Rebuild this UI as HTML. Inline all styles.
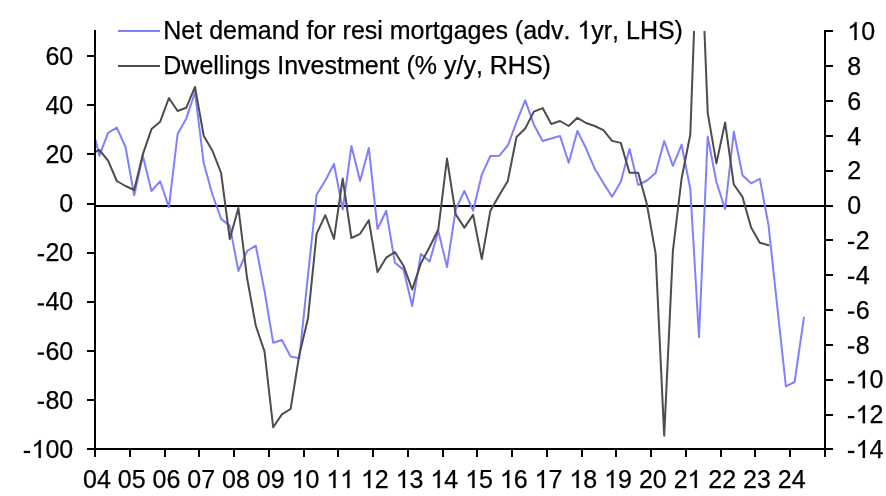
<!DOCTYPE html>
<html><head><meta charset="utf-8"><title>Chart</title>
<style>
html,body{margin:0;padding:0;background:#fff;}
svg{display:block;will-change:transform;}
text{font-family:"Liberation Sans",sans-serif;font-size:25.0px;fill:#000;font-kerning:none;stroke:#000;stroke-width:0.25px;}
</style></head><body>
<svg width="886" height="496" viewBox="0 0 886 496">
<rect width="886" height="496" fill="#fff"/>
<defs><clipPath id="c"><rect x="95" y="31" width="730" height="418"/></clipPath></defs>

<line x1="95" y1="206" x2="833" y2="206" stroke="#000" stroke-width="2" shape-rendering="crispEdges"/>
<g clip-path="url(#c)" fill="none" stroke-linejoin="round" stroke-linecap="round">
<polyline points="90.7,121.0 99.4,155.7 108.1,132.8 116.8,127.6 125.5,147.0 134.2,195.2 142.8,155.7 151.5,191.0 160.2,181.2 168.9,207.2 177.6,134.0 186.3,118.4 195.0,92.3 203.7,163.0 212.4,194.5 221.1,218.9 229.8,225.9 238.4,271.0 247.1,251.0 255.8,245.7 264.5,290.9 273.2,342.8 281.9,340.0 290.6,356.6 299.3,358.3 308.0,275.2 316.6,194.8 325.3,180.5 334.0,164.0 342.7,209.5 351.4,146.1 360.1,181.0 368.8,147.9 377.5,229.0 386.2,210.7 394.9,262.7 403.5,269.6 412.2,306.0 420.9,253.9 429.6,261.6 438.3,231.0 447.0,267.0 455.7,209.4 464.4,190.8 473.1,210.7 481.8,174.7 490.4,156.0 499.1,155.8 507.8,145.5 516.5,122.2 525.2,100.4 533.9,124.7 542.6,141.0 551.3,138.5 560.0,135.9 568.7,162.7 577.4,130.9 586.0,148.3 594.7,168.7 603.4,183.1 612.1,196.7 620.8,181.8 629.5,149.1 638.2,185.1 646.9,180.5 655.6,173.0 664.2,141.0 672.9,165.8 681.6,144.7 690.3,189.0 699.0,337.2 707.7,136.6 716.4,182.0 725.1,209.0 733.8,131.8 742.5,175.3 751.1,183.3 759.8,178.8 768.5,225.0 777.2,306.0 785.9,386.4 794.6,382.0 803.9,317.6" stroke="#8080ff" stroke-width="2.0"/>
<polyline points="90.7,154.0 99.4,150.0 108.1,160.6 116.8,181.0 125.5,186.0 134.2,190.0 142.8,154.4 151.5,129.1 160.2,121.7 168.9,98.0 177.6,111.0 186.3,107.7 195.0,86.9 203.7,135.8 212.4,150.7 221.1,173.0 229.8,239.0 238.4,208.0 247.1,278.3 255.8,325.7 264.5,351.4 273.2,427.3 281.9,414.4 290.6,409.0 299.3,355.0 308.0,318.2 316.6,233.8 325.3,215.2 334.0,238.9 342.7,178.5 351.4,238.0 360.1,233.8 368.8,220.2 377.5,272.0 386.2,257.7 394.9,252.0 403.5,265.7 412.2,289.5 420.9,263.4 429.6,247.0 438.3,229.5 447.0,158.6 455.7,214.4 464.4,227.6 473.1,214.9 481.8,259.1 490.4,210.7 499.1,195.5 507.8,181.0 516.5,137.0 525.2,128.5 533.9,111.6 542.6,108.1 551.3,124.0 560.0,121.0 568.7,126.0 577.4,117.8 586.0,123.0 594.7,126.0 603.4,130.2 612.1,140.9 620.8,142.9 629.5,172.7 638.2,172.7 646.9,204.3 655.6,253.4 664.2,435.8 672.9,250.9 681.6,178.5 690.3,134.5 699.0,-107.0 707.7,112.8 716.4,163.4 725.1,122.5 733.8,184.5 742.5,196.9 751.1,227.6 759.8,242.7 768.5,245.2" stroke="#4d4d4d" stroke-width="2.0"/>
</g>
<g stroke="#000" stroke-width="2" fill="none" shape-rendering="crispEdges">
<line x1="95" y1="30" x2="95" y2="457"/>
<line x1="825" y1="30" x2="825" y2="457"/>
<line x1="87" y1="449" x2="833" y2="449"/>
<line x1="87" y1="56" x2="95" y2="56"/>
<line x1="87" y1="105" x2="95" y2="105"/>
<line x1="87" y1="154" x2="95" y2="154"/>
<line x1="87" y1="204" x2="95" y2="204"/>
<line x1="87" y1="253" x2="95" y2="253"/>
<line x1="87" y1="302" x2="95" y2="302"/>
<line x1="87" y1="351" x2="95" y2="351"/>
<line x1="87" y1="400" x2="95" y2="400"/>
<line x1="87" y1="449" x2="95" y2="449"/>
<line x1="825" y1="31" x2="833" y2="31"/>
<line x1="825" y1="66" x2="833" y2="66"/>
<line x1="825" y1="101" x2="833" y2="101"/>
<line x1="825" y1="136" x2="833" y2="136"/>
<line x1="825" y1="171" x2="833" y2="171"/>
<line x1="825" y1="206" x2="833" y2="206"/>
<line x1="825" y1="240" x2="833" y2="240"/>
<line x1="825" y1="275" x2="833" y2="275"/>
<line x1="825" y1="310" x2="833" y2="310"/>
<line x1="825" y1="345" x2="833" y2="345"/>
<line x1="825" y1="380" x2="833" y2="380"/>
<line x1="825" y1="415" x2="833" y2="415"/>
<line x1="825" y1="449" x2="833" y2="449"/>
<line x1="95" y1="449" x2="95" y2="457"/>
<line x1="130" y1="449" x2="130" y2="457"/>
<line x1="165" y1="449" x2="165" y2="457"/>
<line x1="199" y1="449" x2="199" y2="457"/>
<line x1="234" y1="449" x2="234" y2="457"/>
<line x1="269" y1="449" x2="269" y2="457"/>
<line x1="304" y1="449" x2="304" y2="457"/>
<line x1="338" y1="449" x2="338" y2="457"/>
<line x1="373" y1="449" x2="373" y2="457"/>
<line x1="408" y1="449" x2="408" y2="457"/>
<line x1="443" y1="449" x2="443" y2="457"/>
<line x1="477" y1="449" x2="477" y2="457"/>
<line x1="512" y1="449" x2="512" y2="457"/>
<line x1="547" y1="449" x2="547" y2="457"/>
<line x1="582" y1="449" x2="582" y2="457"/>
<line x1="616" y1="449" x2="616" y2="457"/>
<line x1="651" y1="449" x2="651" y2="457"/>
<line x1="686" y1="449" x2="686" y2="457"/>
<line x1="721" y1="449" x2="721" y2="457"/>
<line x1="755" y1="449" x2="755" y2="457"/>
<line x1="790" y1="449" x2="790" y2="457"/>
<line x1="825" y1="449" x2="825" y2="457"/>
</g>
<text x="45.39" y="64.59">60</text>
<text x="45.39" y="113.76">40</text>
<text x="45.39" y="162.94">20</text>
<text x="59.30" y="212.12">0</text>
<rect x="37.67" y="254.09" width="6.4" height="2.3" fill="#000"/><text x="45.39" y="261.29">20</text>
<rect x="37.67" y="303.27" width="6.4" height="2.3" fill="#000"/><text x="45.39" y="310.47">40</text>
<rect x="37.67" y="352.45" width="6.4" height="2.3" fill="#000"/><text x="45.39" y="359.65">60</text>
<rect x="37.67" y="401.62" width="6.4" height="2.3" fill="#000"/><text x="45.39" y="408.82">80</text>
<rect x="23.76" y="450.80" width="6.4" height="2.3" fill="#000"/><path d="M763 0H583V1147Q518 1085 412.5 1023Q307 961 223 930V1104Q374 1175 487 1276Q600 1377 647 1472H763Z" transform="translate(31.49,458.00) scale(0.01221,-0.01221)" fill="#000" stroke="#000" stroke-width="20"/><text x="45.39" y="458.00">00</text>
<path d="M763 0H583V1147Q518 1085 412.5 1023Q307 961 223 930V1104Q374 1175 487 1276Q600 1377 647 1472H763Z" transform="translate(847.30,40.00) scale(0.01221,-0.01221)" fill="#000" stroke="#000" stroke-width="20"/><text x="861.20" y="40.00">0</text>
<text x="847.30" y="74.83">8</text>
<text x="847.30" y="109.67">6</text>
<text x="847.30" y="144.50">4</text>
<text x="847.30" y="179.33">2</text>
<text x="847.30" y="214.17">0</text>
<rect x="847.90" y="241.80" width="6.4" height="2.3" fill="#000"/><text x="855.63" y="249.00">2</text>
<rect x="847.90" y="276.63" width="6.4" height="2.3" fill="#000"/><text x="855.63" y="283.83">4</text>
<rect x="847.90" y="311.47" width="6.4" height="2.3" fill="#000"/><text x="855.63" y="318.67">6</text>
<rect x="847.90" y="346.30" width="6.4" height="2.3" fill="#000"/><text x="855.63" y="353.50">8</text>
<rect x="847.90" y="381.13" width="6.4" height="2.3" fill="#000"/><path d="M763 0H583V1147Q518 1085 412.5 1023Q307 961 223 930V1104Q374 1175 487 1276Q600 1377 647 1472H763Z" transform="translate(855.63,388.33) scale(0.01221,-0.01221)" fill="#000" stroke="#000" stroke-width="20"/><text x="869.53" y="388.33">0</text>
<rect x="847.90" y="415.97" width="6.4" height="2.3" fill="#000"/><path d="M763 0H583V1147Q518 1085 412.5 1023Q307 961 223 930V1104Q374 1175 487 1276Q600 1377 647 1472H763Z" transform="translate(855.63,423.17) scale(0.01221,-0.01221)" fill="#000" stroke="#000" stroke-width="20"/><text x="869.53" y="423.17">2</text>
<rect x="847.90" y="450.80" width="6.4" height="2.3" fill="#000"/><path d="M763 0H583V1147Q518 1085 412.5 1023Q307 961 223 930V1104Q374 1175 487 1276Q600 1377 647 1472H763Z" transform="translate(855.63,458.00) scale(0.01221,-0.01221)" fill="#000" stroke="#000" stroke-width="20"/><text x="869.53" y="458.00">4</text>
<text x="83.05" y="488.00">04</text>
<text x="117.79" y="488.00">05</text>
<text x="152.53" y="488.00">06</text>
<text x="187.27" y="488.00">07</text>
<text x="222.01" y="488.00">08</text>
<text x="256.75" y="488.00">09</text>
<path d="M763 0H583V1147Q518 1085 412.5 1023Q307 961 223 930V1104Q374 1175 487 1276Q600 1377 647 1472H763Z" transform="translate(291.49,488.00) scale(0.01221,-0.01221)" fill="#000" stroke="#000" stroke-width="20"/><text x="305.39" y="488.00">0</text>
<path d="M763 0H583V1147Q518 1085 412.5 1023Q307 961 223 930V1104Q374 1175 487 1276Q600 1377 647 1472H763Z" transform="translate(326.23,488.00) scale(0.01221,-0.01221)" fill="#000" stroke="#000" stroke-width="20"/><path d="M763 0H583V1147Q518 1085 412.5 1023Q307 961 223 930V1104Q374 1175 487 1276Q600 1377 647 1472H763Z" transform="translate(340.13,488.00) scale(0.01221,-0.01221)" fill="#000" stroke="#000" stroke-width="20"/>
<path d="M763 0H583V1147Q518 1085 412.5 1023Q307 961 223 930V1104Q374 1175 487 1276Q600 1377 647 1472H763Z" transform="translate(360.97,488.00) scale(0.01221,-0.01221)" fill="#000" stroke="#000" stroke-width="20"/><text x="374.87" y="488.00">2</text>
<path d="M763 0H583V1147Q518 1085 412.5 1023Q307 961 223 930V1104Q374 1175 487 1276Q600 1377 647 1472H763Z" transform="translate(395.71,488.00) scale(0.01221,-0.01221)" fill="#000" stroke="#000" stroke-width="20"/><text x="409.61" y="488.00">3</text>
<path d="M763 0H583V1147Q518 1085 412.5 1023Q307 961 223 930V1104Q374 1175 487 1276Q600 1377 647 1472H763Z" transform="translate(430.45,488.00) scale(0.01221,-0.01221)" fill="#000" stroke="#000" stroke-width="20"/><text x="444.35" y="488.00">4</text>
<path d="M763 0H583V1147Q518 1085 412.5 1023Q307 961 223 930V1104Q374 1175 487 1276Q600 1377 647 1472H763Z" transform="translate(465.19,488.00) scale(0.01221,-0.01221)" fill="#000" stroke="#000" stroke-width="20"/><text x="479.09" y="488.00">5</text>
<path d="M763 0H583V1147Q518 1085 412.5 1023Q307 961 223 930V1104Q374 1175 487 1276Q600 1377 647 1472H763Z" transform="translate(499.93,488.00) scale(0.01221,-0.01221)" fill="#000" stroke="#000" stroke-width="20"/><text x="513.83" y="488.00">6</text>
<path d="M763 0H583V1147Q518 1085 412.5 1023Q307 961 223 930V1104Q374 1175 487 1276Q600 1377 647 1472H763Z" transform="translate(534.67,488.00) scale(0.01221,-0.01221)" fill="#000" stroke="#000" stroke-width="20"/><text x="548.57" y="488.00">7</text>
<path d="M763 0H583V1147Q518 1085 412.5 1023Q307 961 223 930V1104Q374 1175 487 1276Q600 1377 647 1472H763Z" transform="translate(569.41,488.00) scale(0.01221,-0.01221)" fill="#000" stroke="#000" stroke-width="20"/><text x="583.31" y="488.00">8</text>
<path d="M763 0H583V1147Q518 1085 412.5 1023Q307 961 223 930V1104Q374 1175 487 1276Q600 1377 647 1472H763Z" transform="translate(604.15,488.00) scale(0.01221,-0.01221)" fill="#000" stroke="#000" stroke-width="20"/><text x="618.05" y="488.00">9</text>
<text x="638.89" y="488.00">20</text>
<text x="673.63" y="488.00">2</text><path d="M763 0H583V1147Q518 1085 412.5 1023Q307 961 223 930V1104Q374 1175 487 1276Q600 1377 647 1472H763Z" transform="translate(687.53,488.00) scale(0.01221,-0.01221)" fill="#000" stroke="#000" stroke-width="20"/>
<text x="708.37" y="488.00">22</text>
<text x="743.11" y="488.00">23</text>
<text x="777.85" y="488.00">24</text>
<line x1="118" y1="31" x2="160" y2="31" stroke="#8080ff" stroke-width="2"/>
<line x1="118" y1="66" x2="160" y2="66" stroke="#4d4d4d" stroke-width="2"/>
<text x="163.3" y="38.8">Net demand for resi mortgages (adv.</text>
<path d="M763 0H583V1147Q518 1085 412.5 1023Q307 961 223 930V1104Q374 1175 487 1276Q600 1377 647 1472H763Z" transform="translate(577.38,38.80) scale(0.01221,-0.01221)" fill="#000" stroke="#000" stroke-width="20"/>
<text x="591.28" y="38.8">yr, LHS)</text>
<text x="163.3" y="73.8">Dwellings Investment (% y/y, RHS)</text>
</svg></body></html>
